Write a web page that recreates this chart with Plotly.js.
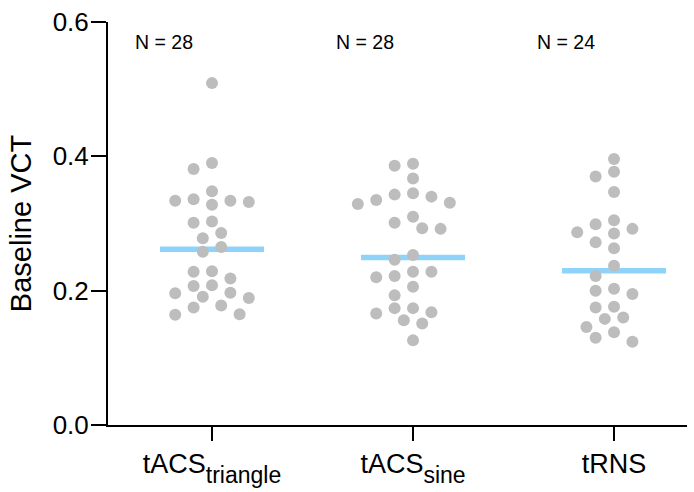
<!DOCTYPE html>
<html>
<head>
<meta charset="utf-8">
<script src="https://cdn.plot.ly/plotly-3.0.1.min.js"></script>
<style>html,body{margin:0;padding:0;background:#fff;}#chart{width:694px;height:492px;}</style>
</head>
<body>
<div id="chart"></div>
<script>
// ---- data ----
const categoryMain = ['tACS', 'tACS', 'tRNS'];
const categorySub = ['triangle', 'sine', ''];
const tacsTriangle = [0.509, 0.390, 0.381, 0.348, 0.336, 0.334, 0.328, 0.334, 0.332, 0.301,
                      0.303, 0.278, 0.286, 0.265, 0.258, 0.229, 0.228, 0.218, 0.208, 0.207,
                      0.189, 0.196, 0.197, 0.191, 0.175, 0.178, 0.165, 0.164];
const tacsSine = [0.389, 0.386, 0.367, 0.335, 0.329, 0.331, 0.340, 0.345, 0.343, 0.293,
                  0.301, 0.310, 0.292, 0.253, 0.246, 0.222, 0.228, 0.220, 0.228, 0.206,
                  0.193, 0.174, 0.174, 0.168, 0.166, 0.156, 0.151, 0.126];
const trns = [0.396, 0.377, 0.370, 0.347, 0.299, 0.305, 0.285, 0.292, 0.287, 0.272,
              0.263, 0.237, 0.222, 0.195, 0.203, 0.200, 0.175, 0.176, 0.158, 0.160,
              0.146, 0.138, 0.124, 0.130];
const yTickVals = [0, 0.2, 0.4, 0.6];
const yTitle = 'Baseline VCT';

// ---- layout constants ----
const W = 694, H = 492;
const M = {l: 108, r: 7, t: 22, b: 67};
const xRange = [0.4826, 3.363];
const yRange = [0, 0.6];
const pxPerX = (W - M.l - M.r) / (xRange[1] - xRange[0]);
const pxPerY = (H - M.t - M.b) / (yRange[1] - yRange[0]);
const FONT = 'Liberation Sans, Arial, Helvetica, sans-serif';
const DOT = '#bdbdbd';
const MED = '#8fd3fa';
const CAT_SIZE = 27, SUB_SIZE = 23;

const groups = [tacsTriangle, tacsSine, trns];

function median(a) {
  const s = a.slice().sort((p, q) => p - q);
  const n = s.length;
  return n % 2 ? s[(n - 1) / 2] : (s[n / 2 - 1] + s[n / 2]) / 2;
}

// beeswarm (computed in pixel space, converted back via the axis scale)
function swarm(values, center) {
  const step = 9.2, sx = 18, sy = 12.5, maxK = 8;
  const cands = [0];
  for (let k = 1; k <= maxK; k++) { cands.push(-k * step, k * step); }
  const order = values.map((v, i) => i).sort((a, b) => values[b] - values[a]);
  const placed = [];
  const xs = new Array(values.length);
  order.forEach(i => {
    const ypx = values[i] * pxPerY;
    for (const ox of cands) {
      const ok = placed.every(p => {
        const dx = (p.x - ox) / sx, dy = (p.y - ypx) / sy;
        return dx * dx + dy * dy >= 1;
      });
      if (ok) {
        placed.push({x: ox, y: ypx});
        xs[i] = center + ox / pxPerX;
        break;
      }
    }
  });
  return xs;
}

const traces = [];
const halfLine = 52 / pxPerX;
groups.forEach((g, gi) => {
  const c = gi + 1;
  const m = median(g);
  traces.push({
    type: 'scatter', mode: 'lines',
    x: [c - halfLine, c + halfLine], y: [m, m],
    line: {color: MED, width: 5.5}, hoverinfo: 'skip'
  });
});
groups.forEach((g, gi) => {
  const c = gi + 1;
  traces.push({
    type: 'scatter', mode: 'markers',
    x: swarm(g, c), y: g,
    marker: {color: DOT, size: 12, line: {width: 0}}
  });
});

const tickText = categoryMain.map((m, i) => categorySub[i]
  ? m + '<sub><sub><span style="font-size:' + SUB_SIZE + 'px">' + categorySub[i] + '</span></sub></sub>'
  : m);

const annotations = groups.map((g, gi) => ({
  x: gi + 1 - 48 / pxPerX, y: 0.570, xref: 'x', yref: 'y',
  text: 'N = ' + g.length, showarrow: false,
  xanchor: 'center', yanchor: 'middle',
  font: {family: FONT, size: 19.5, color: '#000'}
}));

const layout = {
  width: W, height: H,
  margin: M,
  paper_bgcolor: '#fff', plot_bgcolor: '#fff',
  showlegend: false,
  font: {family: FONT, color: '#000'},
  xaxis: {
    range: xRange, showgrid: false, zeroline: false,
    showline: true, linewidth: 2, linecolor: '#000',
    ticks: 'outside', ticklen: 14, tickwidth: 2, tickcolor: '#000',
    tickvals: [1, 2, 3], ticktext: tickText,
    tickfont: {family: FONT, size: CAT_SIZE, color: '#000'}
  },
  yaxis: {
    range: yRange, showgrid: false, zeroline: false,
    showline: true, linewidth: 2, linecolor: '#000',
    ticks: 'outside', ticklen: 15, tickwidth: 2, tickcolor: '#000',
    ticklabelstandoff: -3,
    tickvals: yTickVals, tickformat: '.1f',
    tickfont: {family: FONT, size: 26, color: '#000'},
    title: {text: yTitle, font: {family: FONT, size: 29, color: '#000'}, standoff: 12}
  },
  annotations: annotations
};

Plotly.newPlot('chart', traces, layout, {staticPlot: true, displayModeBar: false});
</script>
</body>
</html>
